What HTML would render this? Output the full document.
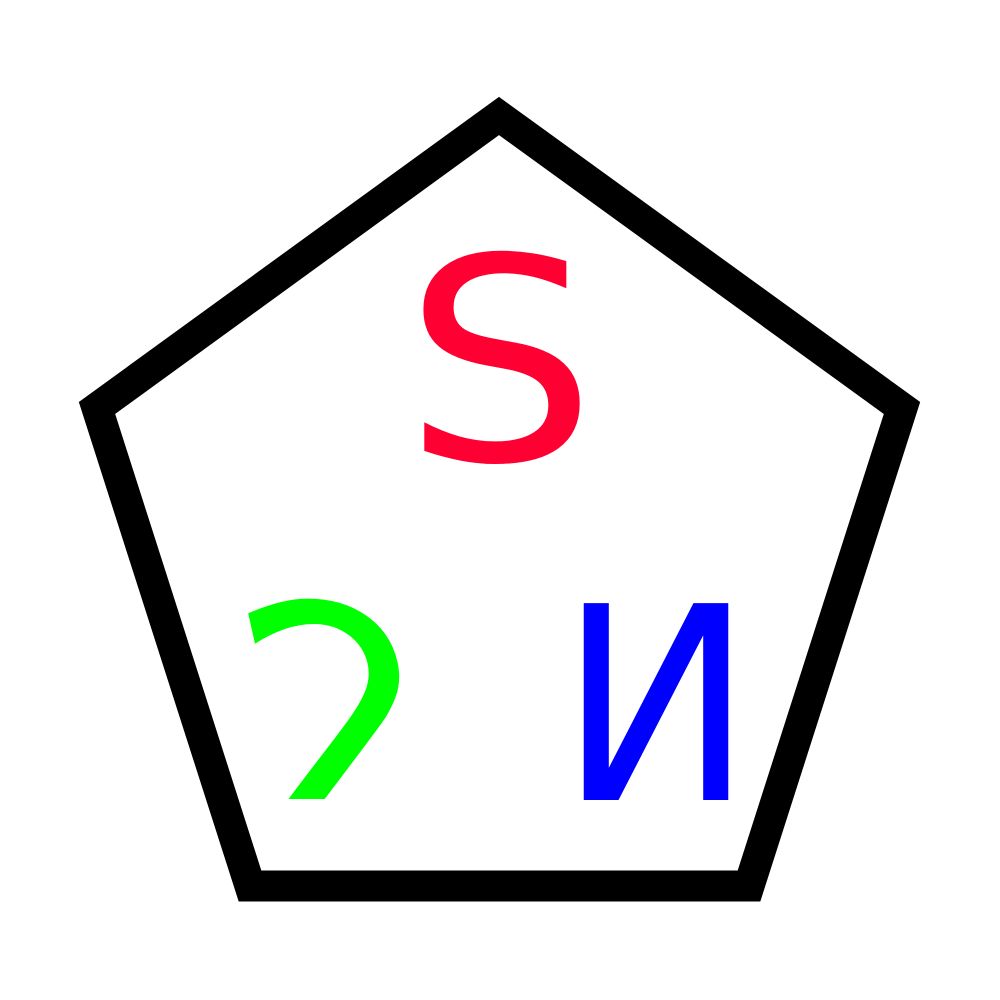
<!DOCTYPE html>
<html><head><meta charset="utf-8"><style>html,body{margin:0;padding:0;background:#fff}svg{display:block}</style></head>
<body>
<svg width="1000" height="1000" viewBox="0 0 1000 1000">
<defs><clipPath id="cut"><rect x="0" y="0" width="1000" height="799"/></clipPath></defs>
<polygon points="499,116 902,408 749,886 250,886 97,408" fill="#fff" stroke="#000" stroke-width="31" stroke-linejoin="miter"/>
<g transform="translate(500,460) scale(1.08,1)"><text x="0" y="0" text-anchor="middle" font-family="DejaVu Sans, sans-serif" font-size="282" fill="#ff0033">S</text></g>
<g transform="translate(656,800) scale(-0.97,1)"><text x="0" y="0" text-anchor="middle" font-family="DejaVu Sans, sans-serif" font-size="270" fill="#0000ff">N</text></g>
<g clip-path="url(#cut)"><g transform="translate(0,598) skewX(12.5) translate(0,-598)"><text x="318" y="825" text-anchor="middle" font-family="DejaVu Sans, sans-serif" font-size="305" fill="#00ff00">2</text></g></g>
</svg>
</body></html>
